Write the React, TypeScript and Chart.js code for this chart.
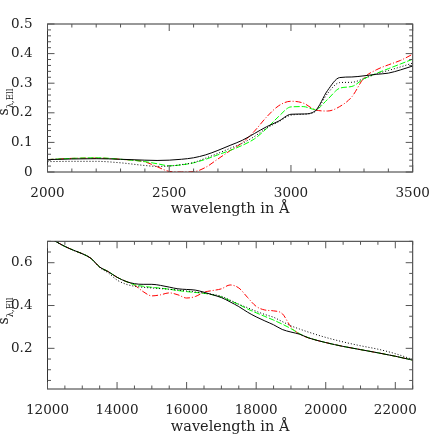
import React, { useEffect, useRef } from "react";
import { Chart, registerables } from "chart.js";
Chart.register(...registerables);

// ---------- Upper panel (UV) ----------
const uvWavelength = [2000, 2100, 2200, 2300, 2400, 2450, 2500, 2550, 2600, 2650, 2700, 2750, 2800, 2850, 2900, 2950, 3000, 3050, 3100, 3150, 3200, 3250, 3300, 3350, 3400, 3450, 3500];
const uvSolid = [0.042, 0.044, 0.045, 0.043, 0.040, 0.039, 0.040, 0.043, 0.048, 0.058, 0.073, 0.090, 0.107, 0.130, 0.153, 0.172, 0.195, 0.196, 0.207, 0.275, 0.319, 0.321, 0.325, 0.330, 0.334, 0.345, 0.358];
const uvDotted = [0.035, 0.036, 0.036, 0.031, 0.022, 0.019, 0.020, 0.025, 0.032, 0.047, 0.063, 0.080, 0.097, 0.120, 0.148, 0.170, 0.192, 0.195, 0.204, 0.265, 0.302, 0.303, 0.316, 0.331, 0.343, 0.355, 0.368];
const uvGreen = [0.042, 0.046, 0.048, 0.043, 0.035, 0.028, 0.021, 0.024, 0.031, 0.043, 0.058, 0.073, 0.090, 0.112, 0.147, 0.188, 0.220, 0.221, 0.211, 0.245, 0.283, 0.289, 0.315, 0.333, 0.349, 0.365, 0.381];
const uvRed = [0.042, 0.046, 0.047, 0.043, 0.034, 0.018, 0.002, 0.000, 0.001, 0.016, 0.044, 0.072, 0.099, 0.138, 0.186, 0.224, 0.239, 0.233, 0.210, 0.206, 0.221, 0.254, 0.318, 0.345, 0.362, 0.377, 0.398];
const uvXTicks = [2000, 2500, 3000, 3500];
const uvYTicks = [0, 0.1, 0.2, 0.3, 0.4, 0.5];

// ---------- Lower panel (IR) ----------
const irWavelength = [12000, 12250, 12500, 12750, 13000, 13250, 13500, 13750, 14000, 14250, 14500, 14750, 15000, 15250, 15500, 15750, 16000, 16250, 16500, 16750, 17000, 17250, 17500, 17750, 18000, 18250, 18500, 18750, 19000, 19250, 19500, 20000, 20500, 21000, 21500, 22000, 22500];
const irSolid = [0.721, 0.698, 0.676, 0.658, 0.642, 0.620, 0.580, 0.558, 0.532, 0.513, 0.502, 0.499, 0.499, 0.494, 0.486, 0.478, 0.475, 0.472, 0.462, 0.450, 0.437, 0.417, 0.395, 0.369, 0.347, 0.328, 0.310, 0.288, 0.276, 0.266, 0.249, 0.227, 0.209, 0.194, 0.179, 0.163, 0.145];
const irDotted = [0.721, 0.698, 0.676, 0.658, 0.642, 0.620, 0.578, 0.552, 0.519, 0.500, 0.490, 0.485, 0.482, 0.479, 0.476, 0.472, 0.468, 0.463, 0.458, 0.452, 0.443, 0.425, 0.406, 0.390, 0.373, 0.358, 0.345, 0.325, 0.305, 0.290, 0.276, 0.251, 0.230, 0.212, 0.196, 0.175, 0.148];
const irGreen = [0.721, 0.698, 0.676, 0.658, 0.642, 0.620, 0.580, 0.558, 0.532, 0.513, 0.497, 0.490, 0.485, 0.481, 0.476, 0.470, 0.465, 0.461, 0.457, 0.450, 0.440, 0.423, 0.405, 0.384, 0.366, 0.349, 0.332, 0.313, 0.292, 0.268, 0.250, 0.227, 0.209, 0.194, 0.179, 0.163, 0.145];
const irRed = [0.721, 0.698, 0.676, 0.658, 0.642, 0.620, 0.580, 0.558, 0.532, 0.513, 0.495, 0.465, 0.445, 0.450, 0.459, 0.450, 0.435, 0.442, 0.462, 0.470, 0.478, 0.496, 0.482, 0.438, 0.396, 0.379, 0.375, 0.362, 0.300, 0.266, 0.249, 0.227, 0.209, 0.194, 0.179, 0.163, 0.145];
const irXTicks = [12000, 14000, 16000, 18000, 20000, 22000];
const irYTicks = [0.2, 0.4, 0.6];

const xTitle = "wavelength in Å";
const yMain = "s";
const ySub = "λ,Ell";
const FONT = "'DejaVu Serif'";

type PanelCfg = {
  xs: number[];
  series: number[][];
  xMin: number; xMax: number; yMin: number; yMax: number;
  xTicks: number[]; yTicks: number[];
  xMinor: number; yMinor: number;
  top: number; bottom: number; titleCy: number;
};

const styles = [
  { color: "#000000", dash: [] as number[] },
  { color: "#000000", dash: [1, 2] },
  { color: "#00ff00", dash: [6, 2] },
  { color: "#ff0000", dash: [6, 2, 1, 2] },
];

function Panel({ cfg }: { cfg: PanelCfg }) {
  const ref = useRef<HTMLCanvasElement | null>(null);
  useEffect(() => {
    const canvas = ref.current!;
    const H = 218;
    const frame = {
      id: "frameTicks",
      afterDatasetsDraw(chart: any) {
        const { ctx, chartArea: a, scales } = chart;
        const sx = scales.x, sy = scales.y;
        ctx.save();
        ctx.strokeStyle = "#333";
        ctx.lineWidth = 1;
        ctx.strokeRect(a.left, a.top, a.right - a.left, a.bottom - a.top);
        ctx.strokeStyle = "#555";
        const isMajor = (v: number, arr: number[]) => arr.some((t) => Math.abs(t - v) < 1e-6);
        const startX = Math.ceil((cfg.xMin - 1e-9) / cfg.xMinor) * cfg.xMinor;
        for (let k = 0; ; k++) {
          const v = startX + k * cfg.xMinor;
          if (v > cfg.xMax + 1e-9) break;
          const p = sx.getPixelForValue(v);
          const len = isMajor(v, cfg.xTicks) ? 7 : 3.5;
          ctx.beginPath();
          ctx.moveTo(p, a.bottom); ctx.lineTo(p, a.bottom - len);
          ctx.moveTo(p, a.top); ctx.lineTo(p, a.top + len);
          ctx.stroke();
        }
        const startY = Math.ceil((cfg.yMin - 1e-9) / cfg.yMinor) * cfg.yMinor;
        for (let k = 0; ; k++) {
          const v = Math.round((startY + k * cfg.yMinor) * 1e6) / 1e6;
          if (v > cfg.yMax + 1e-9) break;
          const p = sy.getPixelForValue(v);
          const len = isMajor(v, cfg.yTicks) ? 7 : 3.5;
          ctx.beginPath();
          ctx.moveTo(a.left, p); ctx.lineTo(a.left + len, p);
          ctx.moveTo(a.right, p); ctx.lineTo(a.right - len, p);
          ctx.stroke();
        }
        ctx.restore();
      },
      afterDraw(chart: any) {
        const { ctx } = chart;
        ctx.save();
        ctx.fillStyle = "#222";
        ctx.font = `14px ${FONT}`;
        const w1 = ctx.measureText(yMain).width;
        ctx.font = `8.5px ${FONT}`;
        const w2 = ctx.measureText(ySub).width;
        ctx.translate(7.5, cfg.titleCy);
        ctx.rotate(-Math.PI / 2);
        const start = -(w1 + w2) / 2;
        ctx.textBaseline = "alphabetic";
        ctx.textAlign = "left";
        ctx.font = `14px ${FONT}`;
        ctx.fillText(yMain, start, 0);
        ctx.font = `8.5px ${FONT}`;
        ctx.fillText(ySub, start + w1, 5);
        ctx.restore();
      },
    };
    const chart = new Chart(canvas, {
      type: "line",
      data: {
        datasets: cfg.series.map((ys, i) => ({
          data: cfg.xs.map((x, j) => ({ x, y: ys[j] })),
          borderColor: styles[i].color,
          borderDash: styles[i].dash,
          borderWidth: 1,
          pointRadius: 0,
          fill: false,
          cubicInterpolationMode: "monotone" as const,
        })),
      },
      options: {
        responsive: false,
        animation: false,
        events: [],
        layout: { padding: { top: cfg.top, right: 23.3, left: 0, bottom: 0 } },
        plugins: { legend: { display: false }, tooltip: { enabled: false }, title: { display: false } },
        scales: {
          x: {
            type: "linear",
            min: cfg.xMin,
            max: cfg.xMax,
            grid: { display: false },
            border: { display: false },
            afterBuildTicks: (s: any) => { s.ticks = cfg.xTicks.map((v) => ({ value: v })); },
            afterFit: (s: any) => { s.height = H - cfg.bottom; },
            ticks: {
              padding: 5,
              color: "#222",
              font: { family: FONT, size: 13.5 },
              maxRotation: 0,
              autoSkip: false,
              callback: (v: any) => String(v),
            },
            title: { display: true, text: xTitle, color: "#222", font: { family: FONT, size: 14.5 }, padding: 0 },
          },
          y: {
            type: "linear",
            min: cfg.yMin,
            max: cfg.yMax,
            grid: { display: false },
            border: { display: false },
            afterBuildTicks: (s: any) => { s.ticks = cfg.yTicks.map((v) => ({ value: v })); },
            afterFit: (s: any) => { s.width = 47.5; },
            ticks: {
              padding: 7,
              color: "#222",
              font: { family: FONT, size: 13.5 },
              autoSkip: false,
              callback: (v: any) => String(v),
            },
          },
        },
      },
      plugins: [frame],
    });
    return () => chart.destroy();
  }, [cfg]);
  return <canvas ref={ref} width={436} height={218} style={{ display: "block", width: 436, height: 218 }} />;
}

const uvCfg: PanelCfg = {
  xs: uvWavelength,
  series: [uvSolid, uvDotted, uvGreen, uvRed],
  xMin: 2000, xMax: 3500, yMin: 0, yMax: 0.5,
  xTicks: uvXTicks, yTicks: uvYTicks, xMinor: 100, yMinor: 0.02,
  top: 24, bottom: 172, titleCy: 102,
};
const irCfg: PanelCfg = {
  xs: irWavelength,
  series: [irSolid, irDotted, irGreen, irRed],
  xMin: 12000, xMax: 22500, yMin: 0.01, yMax: 0.7,
  xTicks: irXTicks, yTicks: irYTicks, xMinor: 500, yMinor: 0.05,
  top: 23.3, bottom: 171, titleCy: 93,
};

export default function App() {
  return (
    <div style={{ position: "fixed", left: 0, top: 0, width: 436, height: 436, background: "#fff" }}>
      <Panel cfg={uvCfg} />
      <Panel cfg={irCfg} />
    </div>
  );
}
